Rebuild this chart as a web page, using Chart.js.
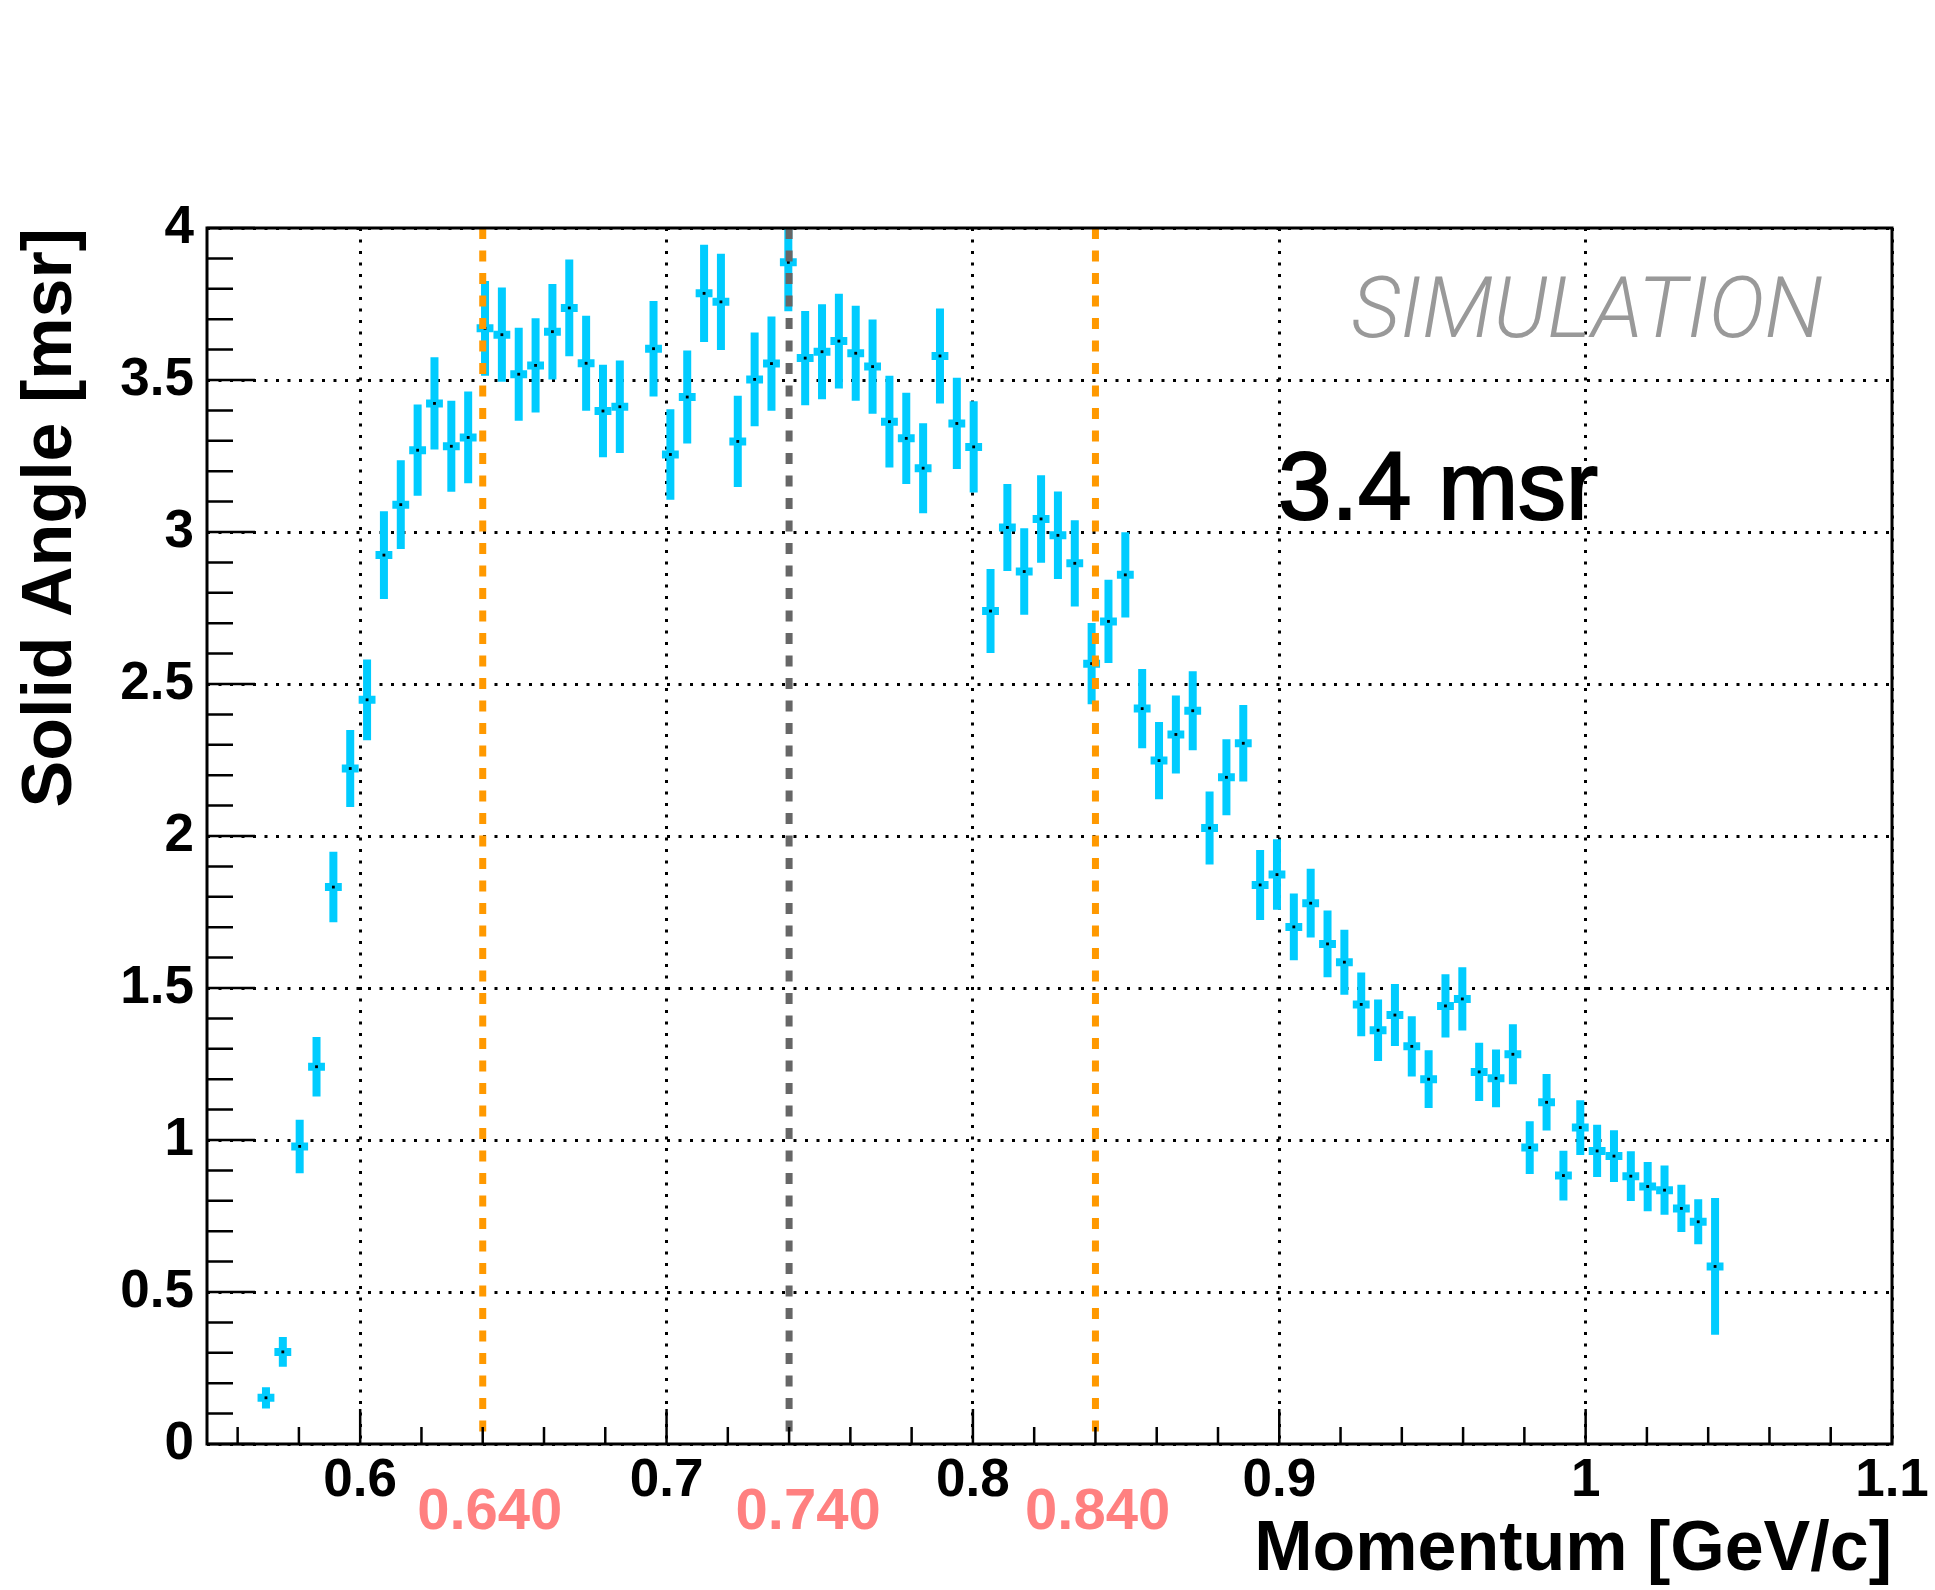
<!DOCTYPE html>
<html lang="en">
<head>
    <meta charset="UTF-8">
    <title>Solid Angle vs Momentum</title>
    <script src="https://cdn.jsdelivr.net/npm/chart.js"></script>
    <style>
        body { margin: 0; background: #fff; }
        #wrap { width: 1935px; height: 1590px; }
    </style>
</head>
<body>
    <div id="wrap"><canvas id="saChart" width="1935" height="1590"></canvas></div>

    <script>
        // bin centres [GeV/c] (bin width 0.0055, bin at 0.690 is empty)
        const momentum = [
            0.56925, 0.57475, 0.58025, 0.58575, 0.59125, 0.59675, 0.60225, 0.60775, 0.61325, 0.61875,
            0.62425, 0.62975, 0.63525, 0.64075, 0.64625, 0.65175, 0.65725, 0.66275, 0.66825, 0.67375,
            0.67925, 0.68475, 0.69575, 0.70125, 0.70675, 0.71225, 0.71775, 0.72325, 0.72875, 0.73425,
            0.73975, 0.74525, 0.75075, 0.75625, 0.76175, 0.76725, 0.77275, 0.77825, 0.78375, 0.78925,
            0.79475, 0.80025, 0.80575, 0.81125, 0.81675, 0.82225, 0.82775, 0.83325, 0.83875, 0.84425,
            0.84975, 0.85525, 0.86075, 0.86625, 0.87175, 0.87725, 0.88275, 0.88825, 0.89375, 0.89925,
            0.90475, 0.91025, 0.91575, 0.92125, 0.92675, 0.93225, 0.93775, 0.94325, 0.94875, 0.95425,
            0.95975, 0.96525, 0.97075, 0.97625, 0.98175, 0.98725, 0.99275, 0.99825, 1.00375, 1.00925,
            1.01475, 1.02025, 1.02575, 1.03125, 1.03675, 1.04225
        ];
        // solid angle [msr]
        const solidAngle = [
            0.152, 0.303, 0.979, 1.241, 1.832, 2.222, 2.448, 2.924, 3.090, 3.269,
            3.423, 3.282, 3.311, 3.670, 3.649, 3.519, 3.548, 3.659, 3.737, 3.555,
            3.398, 3.412, 3.603, 3.255, 3.444, 3.785, 3.757, 3.298, 3.502, 3.554,
            3.887, 3.572, 3.593, 3.628, 3.588, 3.544, 3.363, 3.308, 3.210, 3.579,
            3.357, 3.280, 2.740, 3.015, 2.870, 3.043, 2.989, 2.897, 2.567, 2.706,
            2.859, 2.419, 2.248, 2.334, 2.412, 2.026, 2.193, 2.305, 1.839, 1.873,
            1.701, 1.779, 1.645, 1.585, 1.446, 1.361, 1.411, 1.308, 1.200, 1.441,
            1.464, 1.224, 1.203, 1.282, 0.975, 1.124, 0.883, 1.041, 0.964, 0.947,
            0.881, 0.847, 0.835, 0.775, 0.731, 0.584
        ];
        // statistical error [msr]
        const solidAngleErr = [
            0.035, 0.049, 0.088, 0.098, 0.116, 0.127, 0.133, 0.144, 0.146, 0.150,
            0.152, 0.150, 0.151, 0.156, 0.155, 0.153, 0.155, 0.157, 0.159, 0.156,
            0.152, 0.152, 0.157, 0.149, 0.153, 0.160, 0.158, 0.150, 0.154, 0.155,
            0.161, 0.155, 0.156, 0.156, 0.156, 0.155, 0.151, 0.150, 0.148, 0.156,
            0.150, 0.150, 0.138, 0.143, 0.142, 0.144, 0.144, 0.142, 0.134, 0.137,
            0.140, 0.130, 0.127, 0.128, 0.130, 0.120, 0.125, 0.126, 0.115, 0.116,
            0.110, 0.113, 0.110, 0.107, 0.105, 0.101, 0.102, 0.099, 0.095, 0.104,
            0.104, 0.096, 0.095, 0.099, 0.087, 0.093, 0.082, 0.090, 0.086, 0.085,
            0.082, 0.081, 0.081, 0.078, 0.074, 0.225
        ];
        const binHalfWidth = 0.00275;

        const xTickValues = [0.6, 0.7, 0.8, 0.9, 1.0, 1.1];
        const xTickLabels = ['0.6', '0.7', '0.8', '0.9', '1', '1.1'];
        const yTickValues = [0, 0.5, 1, 1.5, 2, 2.5, 3, 3.5, 4];
        const yTickLabels = ['0', '0.5', '1', '1.5', '2', '2.5', '3', '3.5', '4'];

        // momentum cuts: lower / central / upper
        const cutValues = [0.64, 0.74, 0.84];
        const cutColors = ['#ff9900', '#666666', '#ff9900'];
        const cutLabels = ['0.640', '0.740', '0.840'];
        const cutLabelX = [0.6423, 0.7462, 0.8407];

        const FONT = '"Liberation Sans", Arial, Helvetica, sans-serif';
        Chart.defaults.font.family = FONT;

        const rootStyle = {
            id: 'rootStyle',
            beforeDatasetsDraw(chart) {
                const { ctx, chartArea: a, scales: { x, y } } = chart;
                ctx.save();
                ctx.beginPath();
                ctx.rect(a.left, a.top, a.right - a.left, a.bottom - a.top);
                ctx.clip();
                ctx.strokeStyle = '#00ccff';
                ctx.lineWidth = 8;
                ctx.lineCap = 'butt';
                momentum.forEach((m, i) => {
                    const v = solidAngle[i], e = solidAngleErr[i];
                    const px = x.getPixelForValue(m), py = y.getPixelForValue(v);
                    ctx.beginPath();
                    ctx.moveTo(px, y.getPixelForValue(v - e));
                    ctx.lineTo(px, y.getPixelForValue(v + e));
                    ctx.moveTo(x.getPixelForValue(m - binHalfWidth), py);
                    ctx.lineTo(x.getPixelForValue(m + binHalfWidth), py);
                    ctx.stroke();
                });
                ctx.restore();
            },
            afterDatasetsDraw(chart) {
                const { ctx, chartArea: a, scales: { x, y } } = chart;
                ctx.save();

                // dashed cut lines
                ctx.lineWidth = 7;
                ctx.setLineDash([11, 11.5]);
                cutValues.forEach((c, i) => {
                    const px = x.getPixelForValue(c);
                    ctx.strokeStyle = cutColors[i];
                    ctx.beginPath();
                    ctx.moveTo(px, a.top);
                    ctx.lineTo(px, a.bottom);
                    ctx.stroke();
                });
                ctx.setLineDash([]);

                // inner tick marks
                ctx.strokeStyle = '#000';
                ctx.lineWidth = 2.5;
                ctx.beginPath();
                for (let k = 28; k <= 55; k++) {
                    const px = x.getPixelForValue(k / 50);
                    const len = k % 5 === 0 ? 35 : 17;
                    ctx.moveTo(px, a.bottom);
                    ctx.lineTo(px, a.bottom - len);
                }
                for (let k = 0; k <= 40; k++) {
                    const py = y.getPixelForValue(k / 10);
                    const len = k % 5 === 0 ? 48 : 26;
                    ctx.moveTo(a.left, py);
                    ctx.lineTo(a.left + len, py);
                }
                ctx.stroke();

                // frame
                ctx.lineWidth = 3;
                ctx.strokeRect(a.left, a.top, a.right - a.left, a.bottom - a.top);

                // cut labels under the axis
                ctx.fillStyle = '#ff8080';
                ctx.font = 'bold 58px ' + FONT;
                ctx.textAlign = 'center';
                ctx.textBaseline = 'alphabetic';
                cutLabels.forEach((t, i) => ctx.fillText(t, x.getPixelForValue(cutLabelX[i]), 1529));

                // annotations
                ctx.fillStyle = '#999999';
                ctx.font = 'italic 300 82px Roboto, ' + FONT;
                const simW = ctx.measureText('SIMULATION').width;
                const simSize = 82 * 472 / simW;
                ctx.font = 'italic 300 ' + simSize.toFixed(1) + 'px Roboto, ' + FONT;
                ctx.textAlign = 'right';
                ctx.fillText('SIMULATION', 1823, 337);

                ctx.fillStyle = '#000';
                ctx.strokeStyle = '#000';
                ctx.lineWidth = 2;
                ctx.font = '96px ' + FONT;
                ctx.textAlign = 'left';
                ctx.fillText('3.4 msr', 1278, 519);
                ctx.strokeText('3.4 msr', 1278, 519);

                ctx.restore();
            }
        };

        new Chart(document.getElementById('saChart'), {
            type: 'scatter',
            data: {
                datasets: [{
                    label: 'Solid Angle',
                    data: momentum.map((m, i) => ({ x: m, y: solidAngle[i] })),
                    pointStyle: 'rect',
                    pointRadius: 2,
                    pointBorderWidth: 0,
                    backgroundColor: '#000',
                    borderColor: '#000'
                }]
            },
            options: {
                responsive: false,
                animation: false,
                layout: { padding: { top: 228, right: 43, left: 0, bottom: 0 } },
                plugins: { legend: { display: false }, tooltip: { enabled: false } },
                scales: {
                    x: {
                        type: 'linear',
                        min: 0.55,
                        max: 1.1,
                        afterBuildTicks: s => { s.ticks = xTickValues.map(v => ({ value: v })); },
                        afterFit: s => { s.height = 146; },
                        grid: { color: '#000', lineWidth: 3, drawTicks: false },
                        border: { display: false, dash: [3, 8.5] },
                        ticks: {
                            autoSkip: false, maxRotation: 0, padding: 6, color: '#000',
                            font: { size: 53, weight: 'bold' },
                            callback: (v, i) => xTickLabels[i]
                        },
                        title: {
                            display: true, text: 'Momentum [GeV/c]', align: 'end', color: '#000',
                            font: { size: 70, weight: 'bold' }, padding: { top: 0, bottom: -3 }
                        }
                    },
                    y: {
                        min: 0,
                        max: 4,
                        afterBuildTicks: s => { s.ticks = yTickValues.map(v => ({ value: v })); },
                        afterFit: s => { s.width = 207; },
                        grid: { color: '#000', lineWidth: 3, drawTicks: false },
                        border: { display: false, dash: [3, 8.5] },
                        ticks: {
                            padding: 13, color: '#000',
                            font: { size: 53, weight: 'bold' },
                            callback: (v, i) => yTickLabels[i]
                        },
                        title: {
                            display: true, text: 'Solid Angle [msr]', align: 'end', color: '#000',
                            font: { size: 70, weight: 'bold' }, padding: { top: 10, bottom: 0 }
                        }
                    }
                }
            },
            plugins: [rootStyle]
        });
    </script>
</body>
</html>
